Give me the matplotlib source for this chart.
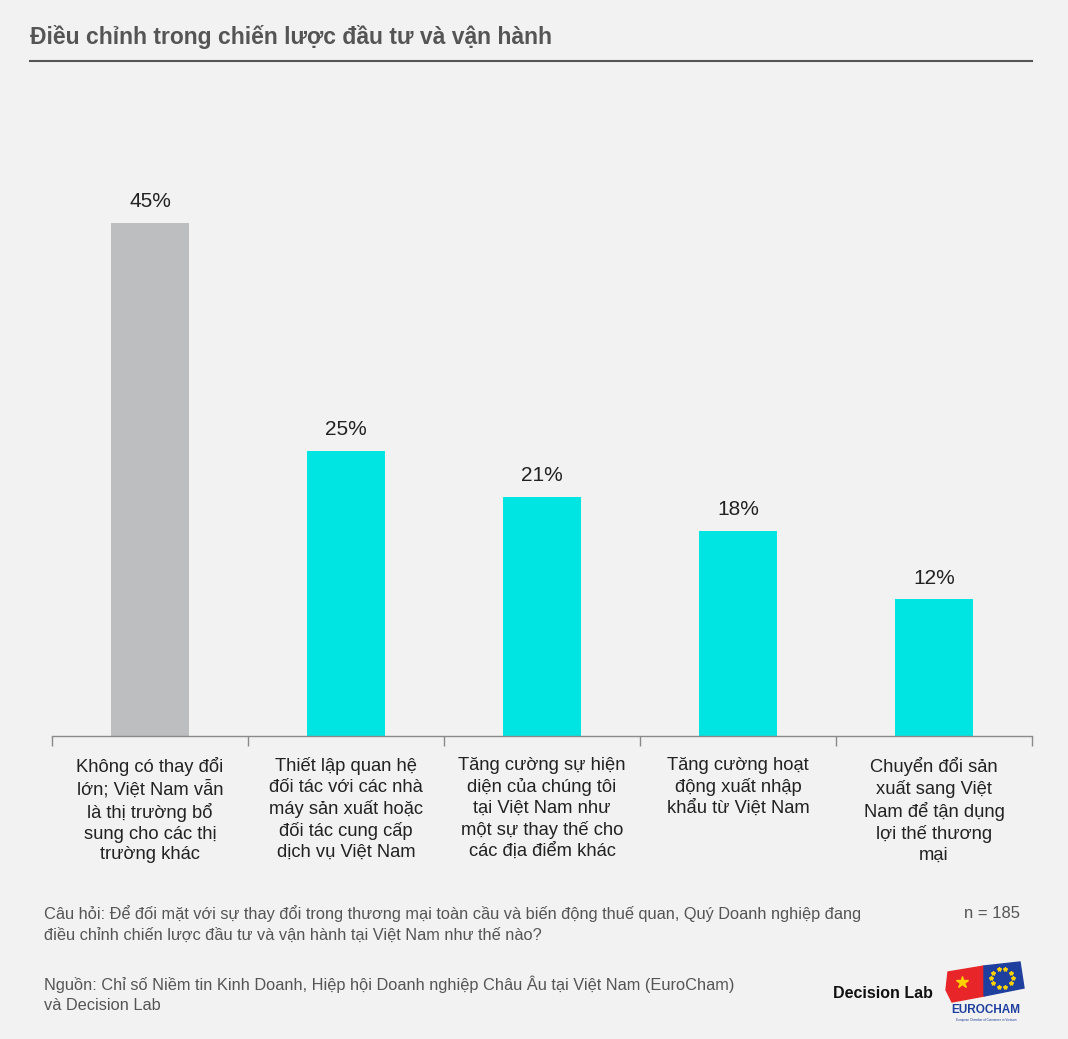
import matplotlib
matplotlib.use("Agg")
import matplotlib.pyplot as plt
from matplotlib.patches import Polygon
import numpy as np

plt.rcParams['font.family'] = ['Liberation Sans', 'DejaVu Sans']

categories = [
    "Không có thay đổi\nlớn; Việt Nam vẫn\nlà thị trường bổ\nsung cho các thị\ntrường khác",
    "Thiết lập quan hệ\nđối tác với các nhà\nmáy sản xuất hoặc\nđối tác cung cấp\ndịch vụ Việt Nam",
    "Tăng cường sự hiện\ndiện của chúng tôi\ntại Việt Nam như\nmột sự thay thế cho\ncác địa điểm khác",
    "Tăng cường hoạt\nđộng xuất nhập\nkhẩu từ Việt Nam",
    "Chuyển đổi sản\nxuất sang Việt\nNam để tận dụng\nlợi thế thương\nmại",
]
values = [45, 25, 21, 18, 12]
value_labels = ["45%", "25%", "21%", "18%", "12%"]
colors = ["#bdbec0", "#00e5e1", "#00e5e1", "#00e5e1", "#00e5e1"]

title = "Điều chỉnh trong chiến lược đầu tư và vận hành"
question = ("Câu hỏi: Để đối mặt với sự thay đổi trong thương mại toàn cầu và biến động thuế quan, Quý Doanh nghiệp đang\n"
            "điều chỉnh chiến lược đầu tư và vận hành tại Việt Nam như thế nào?")
n_text = "n = 185"
source = ("Nguồn: Chỉ số Niềm tin Kinh Doanh, Hiệp hội Doanh nghiệp Châu Âu tại Việt Nam (EuroCham)\n"
          "và Decision Lab")

W, H = 1068, 1039
bg = "#f2f2f2"
fig = plt.figure(figsize=(W / 100, H / 100), dpi=100, facecolor=bg)

def fx(px):
    return px / W

def fy(py):
    return 1 - py / H

# main axes
ax_left, ax_right, ax_bottom, ax_top = 52, 1032, 736, 160
ax = fig.add_axes([fx(ax_left), fy(ax_bottom), fx(ax_right - ax_left), (ax_bottom - ax_top) / H])
ax.set_facecolor(bg)
x = np.arange(len(values))
bars = ax.bar(x, values, width=0.395, color=colors, zorder=2)
ax.set_xlim(-0.5, len(values) - 0.5)
ax.set_ylim(0, (ax_bottom - ax_top) / 11.4)
for b, lab in zip(bars, value_labels):
    ax.text(b.get_x() + b.get_width() / 2, b.get_height() + 1.85, lab,
            ha="center", va="center", fontsize=15, color="#222222")

for s in ["top", "right", "left"]:
    ax.spines[s].set_visible(False)
ax.spines["bottom"].set_color("#8a8a8a")
ax.spines["bottom"].set_linewidth(1.0)
ax.set_yticks([])
ax.set_xticks(x)
ax.set_xticklabels(categories, fontsize=13.2, color="#222222", linespacing=1.29, va="top")
ax.tick_params(axis="x", which="major", length=0, pad=15)
ax.set_xticks(np.arange(-0.5, len(values), 1.0), minor=True)
ax.tick_params(axis="x", which="minor", length=7, width=1.0, color="#8a8a8a", direction="out")

# title and rule
fig.text(fx(30), fy(37), title, fontsize=16.5, fontweight="bold", color="#555555", ha="left", va="center")
fig.add_artist(plt.Line2D([fx(30), fx(1032)], [fy(61), fy(61)], color="#555555", linewidth=1.5))

# footer
fig.text(fx(44), fy(924), question, fontsize=11.8, color="#555555", ha="left", va="center", linespacing=1.4)
fig.text(fx(1020), fy(913), n_text, fontsize=12, color="#555555", ha="right", va="center")
fig.text(fx(44), fy(994), source, fontsize=11.8, color="#555555", ha="left", va="center", linespacing=1.4)

# logos
fig.text(fx(833), fy(994), "Decision Lab", fontsize=11.5, fontweight="bold", color="#111111", ha="left", va="center")
lax = fig.add_axes([fx(944), fy(1025), fx(84), (1025 - 960) / H])
lax.set_xlim(0, 84)
lax.set_ylim(65, 0)
lax.axis("off")
lax.add_patch(Polygon([[4, 12], [40, 6], [40, 36], [8, 42], [2, 30]], closed=True, color="#e8262a"))
lax.add_patch(Polygon([[40, 6], [76, 2], [80, 28], [40, 36]], closed=True, color="#1f3f9e"))
lax.plot([18], [22], marker="*", markersize=9, color="#ffd200")
for ang in np.linspace(0, 2 * np.pi, 10, endpoint=False):
    lax.plot([58 + 11 * np.cos(ang)], [18 + 9 * np.sin(ang)], marker="*", markersize=3, color="#ffd200")
lax.text(42, 50, "EUROCHAM", fontsize=8.5, fontweight="bold", color="#1f3f9e", ha="center", va="center")
lax.text(42, 60, "European Chamber of Commerce in Vietnam", fontsize=2.2, color="#1f3f9e", ha="center", va="center")

fig.savefig("out.png", dpi=100, facecolor=bg)
